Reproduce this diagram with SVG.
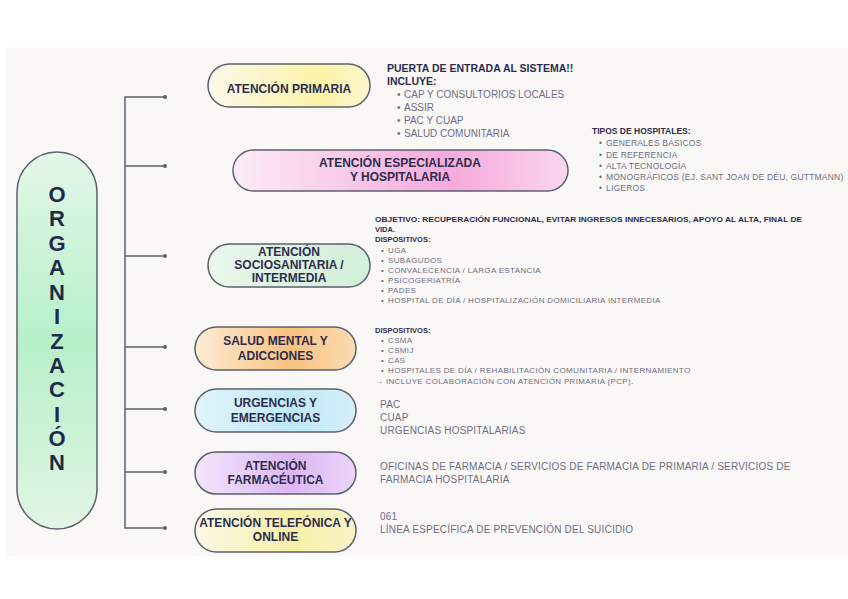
<svg xmlns="http://www.w3.org/2000/svg" width="848" height="599" viewBox="0 0 848 599">
<defs>
<linearGradient id="gYel" x1="0" y1="0" x2="1" y2="0"><stop offset="0" stop-color="#fbf9ec"/><stop offset="0.7" stop-color="#fbf3a6"/><stop offset="1" stop-color="#fcf6cf"/></linearGradient>
<linearGradient id="gPink" x1="0" y1="0" x2="1" y2="0"><stop offset="0" stop-color="#fcecf7"/><stop offset="0.65" stop-color="#f6a9dc"/><stop offset="1" stop-color="#fbd6ef"/></linearGradient>
<linearGradient id="gGreen" x1="0" y1="0" x2="1" y2="0"><stop offset="0" stop-color="#e9f7ec"/><stop offset="1" stop-color="#d2f0da"/></linearGradient>
<linearGradient id="gOrange" x1="0" y1="0" x2="1" y2="0"><stop offset="0" stop-color="#fcecd6"/><stop offset="0.6" stop-color="#f9c27f"/><stop offset="1" stop-color="#fbdcb3"/></linearGradient>
<linearGradient id="gBlue" x1="0" y1="0" x2="1" y2="0"><stop offset="0" stop-color="#e2f5fb"/><stop offset="0.6" stop-color="#bfe8f7"/><stop offset="1" stop-color="#d6f0f9"/></linearGradient>
<linearGradient id="gPurple" x1="0" y1="0" x2="1" y2="0"><stop offset="0" stop-color="#f3e6fb"/><stop offset="0.6" stop-color="#ddb7f4"/><stop offset="1" stop-color="#ecd4f9"/></linearGradient>
<linearGradient id="gYel2" x1="0" y1="0" x2="1" y2="0"><stop offset="0" stop-color="#fbf8e8"/><stop offset="0.6" stop-color="#f8f0a6"/><stop offset="1" stop-color="#faf3c8"/></linearGradient>
<linearGradient id="gOrg" x1="0" y1="0" x2="0" y2="1"><stop offset="0" stop-color="#e4f7e8"/><stop offset="0.5" stop-color="#b6f0c9"/><stop offset="1" stop-color="#e2f5e5"/></linearGradient>
</defs>
<style>
.pill{stroke:#5c5f6e;stroke-width:1.5}
.lbl{font-family:"Liberation Sans",Arial,sans-serif;font-weight:bold;font-size:12px;fill:#2c2d4e;text-anchor:middle}
.org{font-family:"Liberation Sans",Arial,sans-serif;font-weight:bold;font-size:22px;fill:#1e2b48;text-anchor:middle}
.hb{font-family:"Liberation Sans",Arial,sans-serif;font-weight:bold;fill:#2c2d4e}
.it{font-family:"Liberation Sans",Arial,sans-serif;fill:#6e6e84}
.sm{font-size:8px;letter-spacing:0.35px}
.md{font-size:10px;letter-spacing:0.2px}
.conn{fill:none;stroke:#5c5f6e;stroke-width:1.5}
.dot{fill:#5c5f6e}
</style>
<rect x="0" y="0" width="848" height="599" fill="#ffffff"/>
<rect x="6" y="47" width="842" height="509" fill="#f9f8f7"/>

<g id="connectors">
<path class="conn" d="M165 97 H125 V528 H165"/>
<path class="conn" d="M125 166 H165 M125 256 H165 M125 347 H165 M125 409 H165 M125 472 H165"/>
<circle class="dot" cx="165" cy="97" r="2"/>
<circle class="dot" cx="165" cy="166" r="2"/>
<circle class="dot" cx="165" cy="256" r="2"/>
<circle class="dot" cx="165" cy="347" r="2"/>
<circle class="dot" cx="165" cy="409" r="2"/>
<circle class="dot" cx="165" cy="472" r="2"/>
<circle class="dot" cx="165" cy="528" r="2"/>
</g>

<g id="organizacion">
<rect class="pill" x="17" y="152" width="80" height="377" rx="40" fill="url(#gOrg)"/>
<text class="org" x="57" y="202">O</text>
<text class="org" x="57" y="226">R</text>
<text class="org" x="57" y="251">G</text>
<text class="org" x="57" y="275">A</text>
<text class="org" x="57" y="300">N</text>
<text class="org" x="57" y="324">I</text>
<text class="org" x="57" y="349">Z</text>
<text class="org" x="57" y="373">A</text>
<text class="org" x="57" y="397">C</text>
<text class="org" x="57" y="422">I</text>
<text class="org" x="57" y="446">Ó</text>
<text class="org" x="57" y="470">N</text>
</g>

<g id="primaria">
<rect class="pill" x="208" y="64" width="162" height="43" rx="21.5" fill="url(#gYel)"/>
<text class="lbl" x="289" y="93">ATENCIÓN PRIMARIA</text>
</g>
<g id="primaria-info">
<text class="hb" x="387" y="72" font-size="10.5">PUERTA DE ENTRADA AL SISTEMA!!</text>
<text class="hb" x="387" y="85" font-size="10.5">INCLUYE:</text>
<g class="it" font-size="10">
<text x="397" y="98">•</text><text x="404" y="98">CAP Y CONSULTORIOS LOCALES</text>
<text x="397" y="111">•</text><text x="404" y="111">ASSIR</text>
<text x="397" y="124">•</text><text x="404" y="124">PAC Y CUAP</text>
<text x="397" y="137">•</text><text x="404" y="137">SALUD COMUNITARIA</text>
</g>
</g>

<g id="especializada">
<rect class="pill" x="233" y="150" width="335" height="41" rx="20.5" fill="url(#gPink)"/>
<text class="lbl" x="400" y="167" font-size="11.5">ATENCIÓN ESPECIALIZADA</text>
<text class="lbl" x="400" y="181" font-size="11.5">Y HOSPITALARIA</text>
</g>
<g id="especializada-info">
<text class="hb" x="592" y="134" font-size="8.5">TIPOS DE HOSPITALES:</text>
<g class="it" font-size="8.5" letter-spacing="0.2">
<text x="599" y="146">•</text><text x="606" y="146">GENERALES BÁSICOS</text>
<text x="599" y="158">•</text><text x="606" y="158">DE REFERENCIA</text>
<text x="599" y="169">•</text><text x="606" y="169">ALTA TECNOLOGÍA</text>
<text x="599" y="180">•</text><text x="606" y="180">MONOGRÁFICOS (EJ. SANT JOAN DE DÉU, GUTTMANN)</text>
<text x="599" y="191">•</text><text x="606" y="191">LIGEROS</text>
</g>
</g>

<g id="sociosanitaria">
<rect class="pill" x="208" y="244" width="162" height="43" rx="21.5" fill="url(#gGreen)"/>
<text class="lbl" x="289" y="255.5" font-size="11.5">ATENCIÓN</text>
<text class="lbl" x="289" y="268.5" font-size="11.5">SOCIOSANITARIA /</text>
<text class="lbl" x="289" y="281.5" font-size="11.5">INTERMEDIA</text>
</g>
<g id="sociosanitaria-info">
<text class="hb" x="375" y="222" font-size="7.5" textLength="427" lengthAdjust="spacingAndGlyphs">OBJETIVO: RECUPERACIÓN FUNCIONAL, EVITAR INGRESOS INNECESARIOS, APOYO AL ALTA, FINAL DE</text>
<text class="hb" x="375" y="232" font-size="7.5">VIDA.</text>
<text class="hb" x="375" y="242" font-size="7.5">DISPOSITIVOS:</text>
<g class="it sm">
<text x="381" y="252.5">•</text><text x="388" y="252.5">UGA</text>
<text x="381" y="262.5">•</text><text x="388" y="262.5">SUBAGUDOS</text>
<text x="381" y="272.5">•</text><text x="388" y="272.5">CONVALECENCIA / LARGA ESTANCIA</text>
<text x="381" y="282.5">•</text><text x="388" y="282.5">PSICOGERIATRÍA</text>
<text x="381" y="293">•</text><text x="388" y="293">PADES</text>
<text x="381" y="303">•</text><text x="388" y="303">HOSPITAL DE DÍA / HOSPITALIZACIÓN DOMICILIARIA INTERMEDIA</text>
</g>
</g>

<g id="salud-mental">
<rect class="pill" x="195" y="327" width="161" height="43" rx="21.5" fill="url(#gOrange)"/>
<text class="lbl" x="275.5" y="345">SALUD MENTAL Y</text>
<text class="lbl" x="275.5" y="360">ADICCIONES</text>
</g>
<g id="salud-mental-info">
<text class="hb" x="375" y="332.5" font-size="7.5">DISPOSITIVOS:</text>
<g class="it sm">
<text x="381" y="342.5">•</text><text x="388" y="342.5">CSMA</text>
<text x="381" y="352.5">•</text><text x="388" y="352.5">CSMIJ</text>
<text x="381" y="362.5">•</text><text x="388" y="362.5">CAS</text>
<text x="381" y="372.5">•</text><text x="388" y="372.5">HOSPITALES DE DÍA / REHABILITACIÓN COMUNITARIA / INTERNAMIENTO</text>
<text x="375" y="383.5">→ INCLUYE COLABORACIÓN CON ATENCIÓN PRIMARIA (PCP).</text>
</g>
</g>

<g id="urgencias">
<rect class="pill" x="195" y="389" width="161" height="43" rx="21.5" fill="url(#gBlue)"/>
<text class="lbl" x="275.5" y="407">URGENCIAS Y</text>
<text class="lbl" x="275.5" y="422">EMERGENCIAS</text>
</g>
<g id="urgencias-info" class="it md">
<text x="380" y="408">PAC</text>
<text x="380" y="421">CUAP</text>
<text x="380" y="434">URGENCIAS HOSPITALARIAS</text>
</g>

<g id="farmaceutica">
<rect class="pill" x="195" y="452" width="161" height="42" rx="21" fill="url(#gPurple)"/>
<text class="lbl" x="275.5" y="470">ATENCIÓN</text>
<text class="lbl" x="275.5" y="484">FARMACÉUTICA</text>
</g>
<g id="farmaceutica-info" class="it md">
<text x="380" y="469.5">OFICINAS DE FARMACIA / SERVICIOS DE FARMACIA DE PRIMARIA / SERVICIOS DE</text>
<text x="380" y="483">FARMACIA HOSPITALARIA</text>
</g>

<g id="telefonica">
<rect class="pill" x="195" y="509" width="161" height="43" rx="21.5" fill="url(#gYel2)"/>
<text class="lbl" x="275.5" y="527" font-size="11.3">ATENCIÓN TELEFÓNICA Y</text>
<text class="lbl" x="275.5" y="541" font-size="11.3">ONLINE</text>
</g>
<g id="telefonica-info" class="it md">
<text x="380" y="519.5">061</text>
<text x="380" y="532.5">LÍNEA ESPECÍFICA DE PREVENCIÓN DEL SUICIDIO</text>
</g>
</svg>
